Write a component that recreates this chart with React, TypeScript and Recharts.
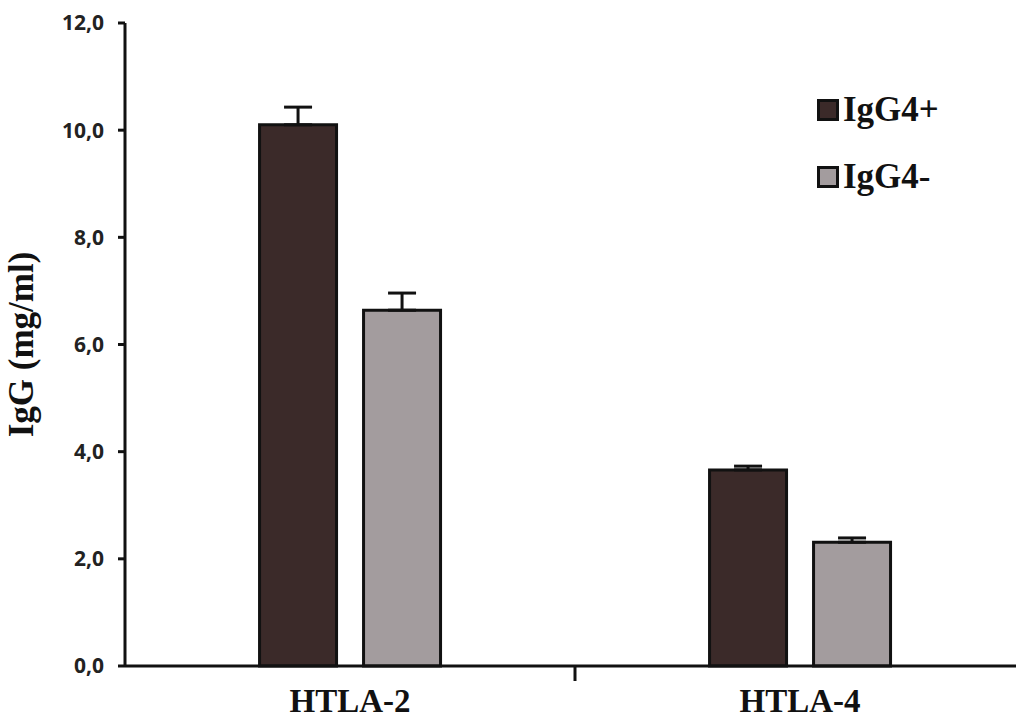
import { BarChart, Bar, XAxis, YAxis, ErrorBar } from "recharts";

const categories = ["HTLA-2", "HTLA-4"];
const igg4Pos = [10.1, 3.66];
const igg4PosErr = [0.33, 0.07];
const igg4Neg = [6.64, 2.31];
const igg4NegErr = [0.32, 0.08];
const yTicks = [0, 2, 4, 6, 8, 10, 12];

const data = categories.map((c, i) => ({
  name: c,
  pos: igg4Pos[i],
  posErr: [0, igg4PosErr[i]],
  neg: igg4Neg[i],
  negErr: [0, igg4NegErr[i]],
}));

const CHART_W = 1030;
const LEFT = 125;
const RIGHT = 5;
const halfBand = (CHART_W - LEFT - RIGHT) / categories.length / 2;

const XTick = (props: any) => {
  const { x, y, payload, index } = props;
  return (
    <g>
      {index === 0 && (
        <line x1={x + halfBand} x2={x + halfBand} y1={y - 8} y2={y + 7} stroke="#111" strokeWidth={3} />
      )}
      <text
        x={x}
        y={y + 38}
        textAnchor="middle"
        fontFamily="Liberation Serif, serif"
        fontWeight="bold"
        fontSize={33}
        fill="#111"
      >
        {payload.value}
      </text>
    </g>
  );
};

const legendItems = [
  { label: "IgG4+", color: "#3b2a29" },
  { label: "IgG4-", color: "#a39c9e" },
];

export default function App() {
  return (
    <div style={{ position: "absolute", left: 0, top: 0, width: 1016, height: 722, overflow: "hidden", background: "#fff" }}>
      <BarChart
        width={CHART_W}
        height={722}
        data={data}
        margin={{ top: 23, right: RIGHT, left: 0, bottom: 6 }}
        barCategoryGap="29.9%"
        barGap={27}
      >
        <XAxis
          dataKey="name"
          axisLine={{ stroke: "#111", strokeWidth: 3 }}
          tickLine={false}
          tick={<XTick />}
          height={50}
        />
        <YAxis
          domain={[0, 12]}
          ticks={yTicks}
          width={LEFT}
          axisLine={{ stroke: "#111", strokeWidth: 3 }}
          tickLine={{ stroke: "#111", strokeWidth: 3 }}
          tickSize={7}
          tickMargin={14}
          tickFormatter={(v: number) => v.toFixed(1).replace(".", ",")}
          tick={{ fontFamily: "Open Sans, sans-serif", fontWeight: "bold", fontSize: 21, fill: "#222" }}
          label={{
            value: "IgG (mg/ml)",
            angle: -90,
            position: "insideLeft",
            dx: 16,
            style: { textAnchor: "middle", fontFamily: "Liberation Serif, serif", fontWeight: "bold", fontSize: 35, fill: "#111" },
          }}
        />
        <Bar dataKey="pos" fill="#3b2a29" stroke="#111" strokeWidth={3} isAnimationActive={false}>
          <ErrorBar dataKey="posErr" direction="y" width={14} stroke="#111" strokeWidth={3} />
        </Bar>
        <Bar dataKey="neg" fill="#a39c9e" stroke="#111" strokeWidth={3} isAnimationActive={false}>
          <ErrorBar dataKey="negErr" direction="y" width={14} stroke="#111" strokeWidth={3} />
        </Bar>
      </BarChart>
      <div
        style={{
          position: "absolute",
          left: 817,
          top: 90,
          fontFamily: "Liberation Serif, serif",
          fontWeight: "bold",
          fontSize: 35,
          color: "#111",
        }}
      >
        {legendItems.map((it, i) => (
          <div key={i} style={{ display: "flex", alignItems: "center", height: 40, marginBottom: 27 }}>
            <span
              style={{
                width: 16,
                height: 16,
                background: it.color,
                border: "3px solid #111",
                marginRight: 4,
                display: "inline-block",
              }}
            />
            {it.label}
          </div>
        ))}
      </div>
    </div>
  );
}
